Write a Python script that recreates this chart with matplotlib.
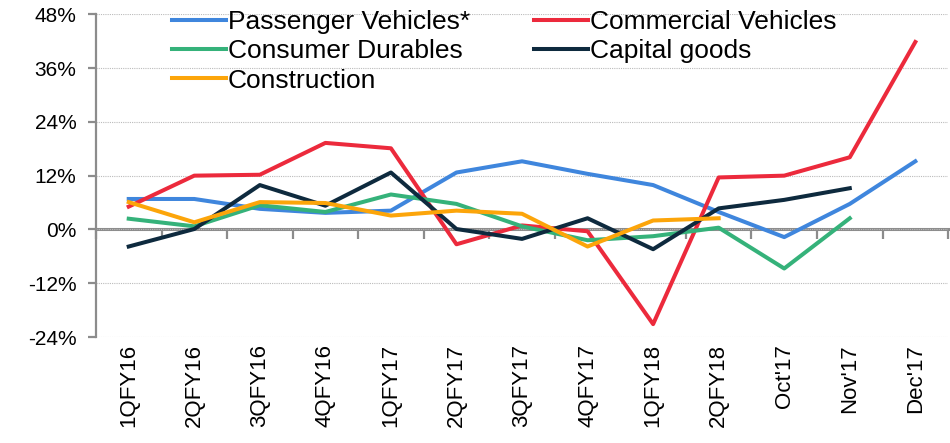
import numpy as np
import matplotlib
matplotlib.use('Agg')
import matplotlib.pyplot as plt
from matplotlib.ticker import FuncFormatter

plt.rcParams['font.family'] = ['Liberation Sans', 'DejaVu Sans']

# Data (% growth)
periods = ['1QFY16', '2QFY16', '3QFY16', '4QFY16', '1QFY17', '2QFY17', '3QFY17',
           '4QFY17', '1QFY18', '2QFY18', "Oct'17", "Nov'17", "Dec'17"]

passenger = [6.8, 6.8, 4.6, 3.7, 4.2, 12.7, 15.2, 12.4, 9.9, 3.9, -1.7, 5.7, 15.2]
commercial = [5.1, 12.0, 12.2, 19.3, 18.1, -3.3, 0.9, -0.4, -21.1, 11.6, 12.0, 16.1, 41.8]
consumer = [2.4, 0.7, 5.4, 3.9, 7.8, 5.7, 0.7, -2.4, -1.5, 0.4, -8.7, 2.5, np.nan]
capital = [-3.8, 0.1, 9.9, 5.3, 12.7, 0.1, -2.1, 2.5, -4.4, 4.7, 6.6, 9.2, np.nan]
construction = [6.1, 1.6, 6.1, 5.9, 3.1, 4.2, 3.5, -3.8, 2.0, 2.5, np.nan, np.nan, np.nan]

fig = plt.figure(figsize=(9.5, 4.43), dpi=100)
ax = fig.add_axes([0.101, 0.239, 0.897, 0.729])

x = np.arange(len(periods))
lw = 2.9
l_pv, = ax.plot(x, passenger, color='#3F86DD', lw=lw, label='Passenger Vehicles*')
l_cv, = ax.plot(x, commercial, color='#EC2A3C', lw=lw, label='Commercial Vehicles')
l_cd, = ax.plot(x, consumer, color='#35B27A', lw=lw, label='Consumer Durables')
l_cg, = ax.plot(x, capital, color='#0E2A3E', lw=lw, label='Capital goods')
l_co, = ax.plot(x, construction, color='#FCA50A', lw=lw, label='Construction')

ax.set_xlim(-0.5, len(periods) - 0.5)
ax.set_ylim(-24, 48)
ax.set_yticks(np.arange(-24, 49, 12))
ax.yaxis.set_major_formatter(FuncFormatter(lambda v, p: f'{v:.0f}%'))
ax.grid(axis='y', color='#BBBBBB', linestyle=(0, (1, 1)), linewidth=0.8)
ax.set_axisbelow(True)

for s in ['top', 'right', 'bottom']:
    ax.spines[s].set_visible(False)
ax.spines['left'].set_color('#8C8C8C')
ax.spines['left'].set_linewidth(1.6)
ax.tick_params(axis='y', direction='out', length=6, width=1.6, color='#8C8C8C',
               labelsize=15, pad=8)

ax.set_xticks(x)
ax.set_xticklabels(periods, rotation=90, fontsize=16)
ax.tick_params(axis='x', length=0, pad=5)

# zero line with category boundary ticks
sec = ax.secondary_xaxis(24 / 72)
sec.set_xticks(np.arange(len(periods) + 1) - 0.5)
sec.set_xticklabels([])
sec.tick_params(direction='out', length=7, width=1.6, color='#8C8C8C')
sec.spines['bottom'].set_color('#8C8C8C')
sec.spines['bottom'].set_linewidth(2.2)

# row-major order like the original: matplotlib fills legend columns first
handles = [l_pv, l_cd, l_co, l_cv, l_cg]
ax.legend(handles=handles, ncol=2, loc='upper left', bbox_to_anchor=(0.089, 1.013),
          frameon=False, fontsize=19, handlelength=2.05, handletextpad=0.08,
          columnspacing=2.4, labelspacing=0.2, borderpad=0, borderaxespad=0)

fig.savefig('out.png', dpi=100)
